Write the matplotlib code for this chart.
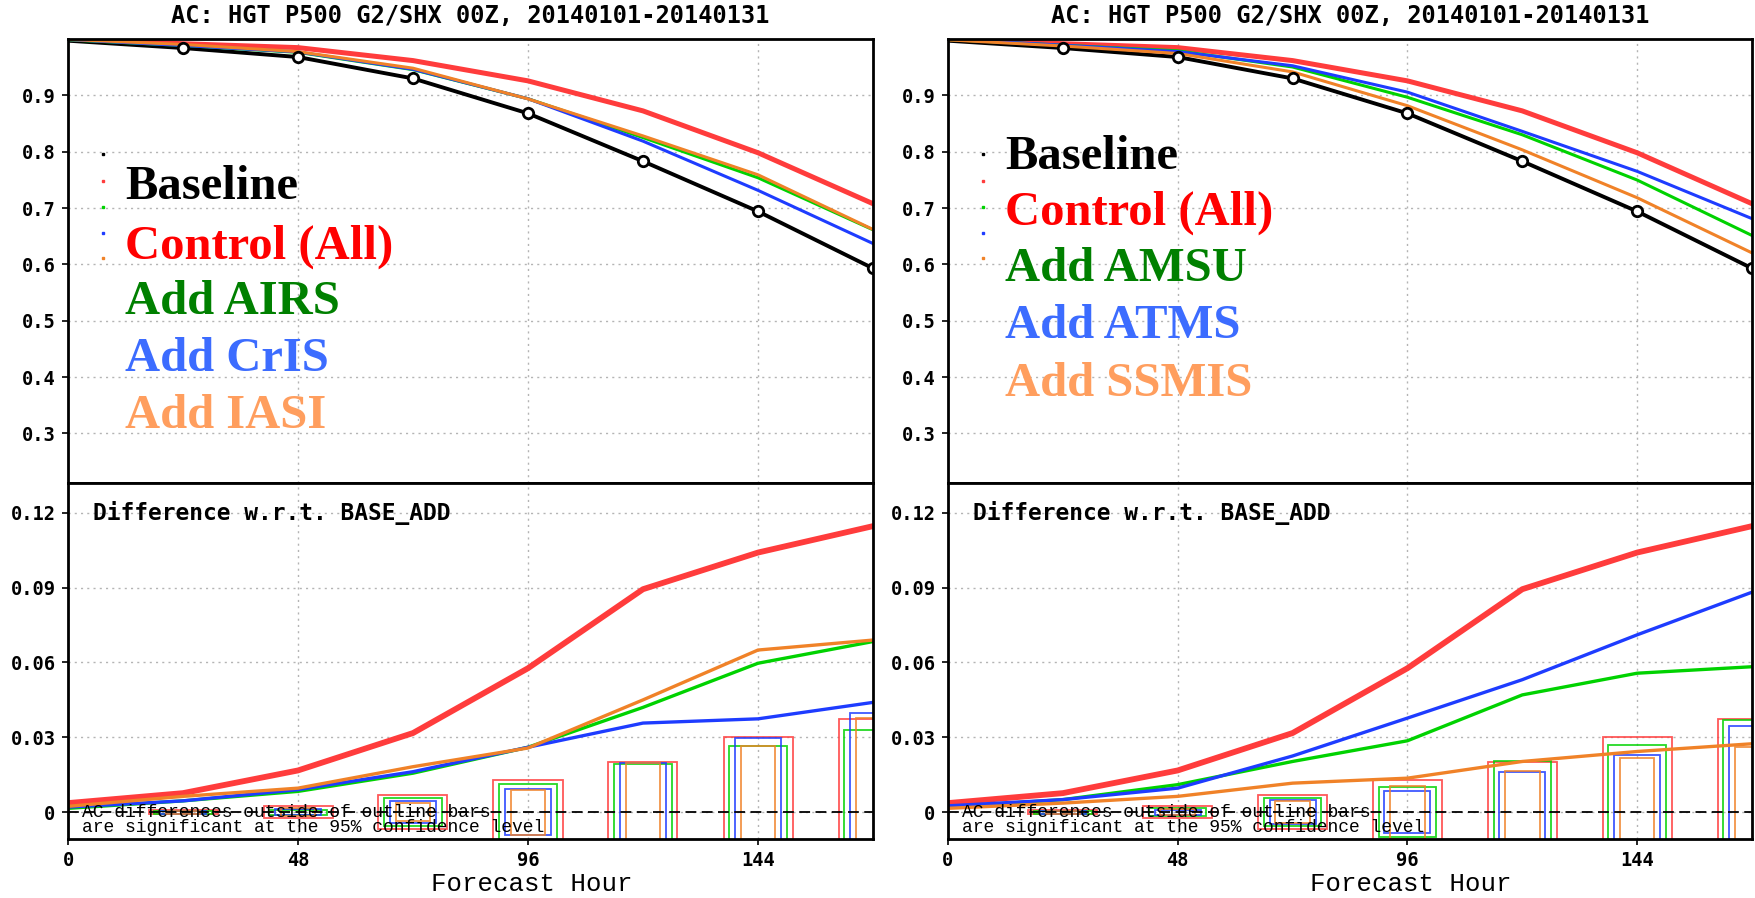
import numpy as np
import matplotlib.pyplot as plt
from matplotlib.patches import Rectangle

# Datos: correlacion de anomalias HGT P500, enero 2014
hours = [0, 24, 48, 72, 96, 120, 144, 168]
ac_baseline = [0.997, 0.984, 0.968, 0.930, 0.868, 0.783, 0.694, 0.593]

# diferencias respecto a BASE_ADD
diff_control = [0.0036, 0.0076, 0.0167, 0.0317, 0.0577, 0.0894, 0.1041, 0.1147]
diff_airs = [0.0015, 0.0045, 0.0083, 0.0156, 0.0260, 0.0420, 0.0597, 0.0684]
diff_cris = [0.0020, 0.0045, 0.0090, 0.0162, 0.0260, 0.0357, 0.0374, 0.0440]
diff_iasi = [0.0023, 0.0063, 0.0096, 0.0182, 0.0257, 0.0450, 0.0650, 0.0690]
diff_amsu = [0.0020, 0.0050, 0.0110, 0.0203, 0.0286, 0.0470, 0.0557, 0.0583]
diff_atms = [0.0025, 0.0050, 0.0096, 0.0225, 0.0377, 0.0531, 0.0711, 0.0882]
diff_ssmis = [0.0015, 0.0036, 0.0063, 0.0116, 0.0136, 0.0203, 0.0243, 0.0274]

# barras de significancia (95%)
sig_hours = [24, 48, 72, 96, 120, 144, 168]
sig_control = [0.0008, 0.0023, 0.0068, 0.0129, 0.0202, 0.0300, 0.0375]
sig_airs = [0.0006, 0.0010, 0.0056, 0.0114, 0.0193, 0.0265, 0.0328]
sig_cris = [0.0006, 0.0012, 0.0045, 0.0092, 0.0196, 0.0296, 0.0396]
sig_iasi = [0.0006, 0.0016, 0.0036, 0.0090, 0.0198, 0.0265, 0.0376]
sig_amsu = [0.0006, 0.0016, 0.0056, 0.0100, 0.0204, 0.0270, 0.0368]
sig_atms = [0.0006, 0.0010, 0.0047, 0.0083, 0.0160, 0.0230, 0.0344]
sig_ssmis = [0.0006, 0.0013, 0.0043, 0.0106, 0.0164, 0.0216, 0.0260]

title = "AC: HGT P500 G2/SHX 00Z, 20140101-20140131"
labels_left = ["Baseline", "Control (All)", "Add AIRS", "Add CrIS", "Add IASI"]
labels_right = ["Baseline", "Control (All)", "Add AMSU", "Add ATMS", "Add SSMIS"]

line_colors = ["black", "#ff3c3c", "#00d200", "#1e3cff", "#f08228"]
text_colors = ["black", "#ff0000", "#008000", "#3c6cff", "#ff9e5e"]
box_halfw = [7.2, 6.0, 4.8, 3.6]

W, H = 1756, 898
fig = plt.figure(figsize=(W / 100, H / 100), dpi=100)

mono = "DejaVu Sans Mono"
courier = "Liberation Mono"
grid_kw = dict(color="#b4b4b4", linestyle=(0, (1.5, 3)), lw=1)


def panel(x0, x1, names, diffs, sigs, leg_y):
    left = x0 / W
    width = (x1 - x0) / W
    ax_t = fig.add_axes([left, 1 - 483 / H, width, 444 / H])
    ax_b = fig.add_axes([left, 1 - 839 / H, width, 356 / H])

    # panel superior: AC
    base = np.array(ac_baseline)
    ax_t.plot(hours, base, color="black", lw=2.8, zorder=3)
    ax_t.plot(hours[1:], base[1:], ls="none", marker="o", ms=7.5, mfc="white",
              mec="black", mew=2, zorder=4)
    widths = [3.6, 2.2, 2.2, 2.2]
    for i, d in enumerate(diffs):
        ax_t.plot(hours, base + np.array(d), color=line_colors[i + 1],
                  lw=widths[i], zorder=3)
    ax_t.set_xlim(0, 168)
    ax_t.set_ylim(0.212, 1.0)
    ax_t.set_yticks([0.3, 0.4, 0.5, 0.6, 0.7, 0.8, 0.9])
    ax_t.set_yticklabels(["0.3", "0.4", "0.5", "0.6", "0.7", "0.8", "0.9"])
    ax_t.set_xticks([48, 96, 144])
    ax_t.tick_params(axis="x", bottom=False, labelbottom=False)
    ax_t.grid(True, **grid_kw)

    # leyenda
    dot_y = [0.741, 0.680, 0.622, 0.562, 0.506]
    for i, name in enumerate(names):
        ax_t.plot(0.0435, dot_y[i], marker="s", ms=2, color=line_colors[i],
                  transform=ax_t.transAxes, clip_on=False)
        ax_t.text(0.071, leg_y[i] - 0.01, name, transform=ax_t.transAxes,
                  color=text_colors[i], fontsize=35, fontweight="bold",
                  family="Liberation Serif", va="center", ha="left", zorder=5)

    # panel inferior: diferencias
    for i, s in enumerate(sigs):
        for h, v in zip(sig_hours, s):
            ax_b.add_patch(Rectangle((h - box_halfw[i], -v), 2 * box_halfw[i], 2 * v,
                                     fill=False, ec=line_colors[i + 1], lw=1.3,
                                     alpha=0.85, zorder=2))
    widths_b = [4.2, 2.4, 2.4, 2.4]
    for i, d in enumerate(diffs):
        ax_b.plot(hours, d, color=line_colors[i + 1], lw=widths_b[i], zorder=3)
    ax_b.axhline(0, color="black", ls=(0, (6, 3)), lw=1.3, zorder=2)
    ax_b.set_xlim(0, 168)
    ax_b.set_ylim(-0.0108, 0.132)
    ax_b.set_yticks([0, 0.03, 0.06, 0.09, 0.12])
    ax_b.set_yticklabels(["0", "0.03", "0.06", "0.09", "0.12"])
    ax_b.set_xticks([0, 48, 96, 144])
    ax_b.set_xticklabels(["0", "48", "96", "144"])
    ax_b.grid(True, **grid_kw)

    ax_b.text(5.2, 0.12, "Difference w.r.t. BASE_ADD", family=mono,
              fontweight="bold", fontsize=16.5, va="center", ha="left")
    ax_b.text(3.0, 0.0, "AC differences outside of outline bars", family=courier,
              fontsize=13, va="center", ha="left", zorder=4)
    ax_b.text(3.0, -0.006, "are significant at the 95% confidence level",
              family=courier, fontsize=13, va="center", ha="left", zorder=4)

    for ax in (ax_t, ax_b):
        for sp in ax.spines.values():
            sp.set_linewidth(2)
            sp.set_zorder(6)
        ax.tick_params(length=4, width=1.2, color="black", pad=5)
        for lab in ax.get_yticklabels() + ax.get_xticklabels():
            lab.set_family(mono)
            lab.set_fontweight("bold")
            lab.set_fontsize(13.5)

    cx = (x0 + x1) / 2 / W
    fig.text(cx, 1 - 16 / H, title, family=mono, fontweight="bold", fontsize=17,
             ha="center", va="center")
    fig.text(cx + 61 / W, 1 - 884 / H, "Forecast Hour", family=courier, fontsize=18.5,
             ha="center", va="center")


panel(68, 873, labels_left, [diff_control, diff_airs, diff_cris, diff_iasi],
      [sig_control, sig_airs, sig_cris, sig_iasi],
      [0.676, 0.543, 0.417, 0.289, 0.160])
panel(948, 1752, labels_right, [diff_control, diff_amsu, diff_atms, diff_ssmis],
      [sig_control, sig_amsu, sig_atms, sig_ssmis],
      [0.745, 0.619, 0.491, 0.363, 0.232])

fig.savefig("out.png", dpi=100)
